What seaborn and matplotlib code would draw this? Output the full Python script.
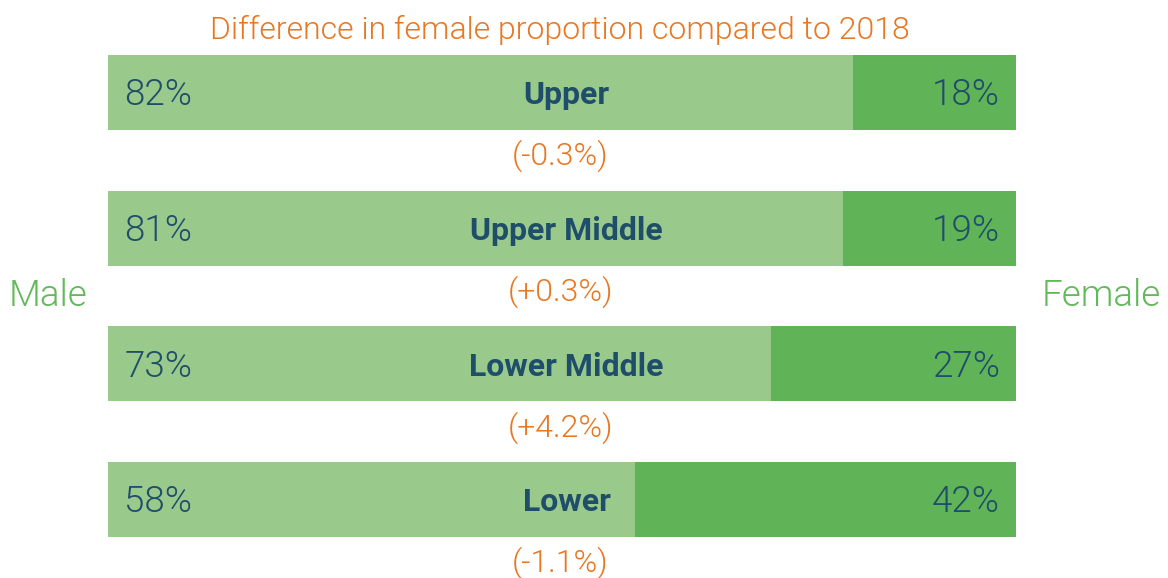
import pandas as pd
import matplotlib.pyplot as plt
import seaborn as sns

# --- data ---
groups = ["Upper", "Upper Middle", "Lower Middle", "Lower"]
male_pct = [82, 81, 73, 58]
female_pct = [18, 19, 27, 42]
diff_labels = ["(-0.3%)", "(+0.3%)", "(+4.2%)", "(-1.1%)"]

LIGHT = "#9ac98c"
DARK = "#60b457"
NAVY = "#1f4e6b"
ORANGE = "#e87722"
LABEL_GREEN = "#62b85a"
THIN = 300

df = pd.DataFrame({"group": groups, "male": male_pct, "female": female_pct})
df["total"] = df["male"] + df["female"]

sns.set_theme(style="white")
plt.rcParams["font.family"] = ["Roboto", "DejaVu Sans"]

fig = plt.figure(figsize=(11.68, 5.78), dpi=100)
ax = fig.add_axes([108 / 1168, 0, 908 / 1168, 1])

# female share is the dark bar behind, male share drawn over it from the left
sns.barplot(data=df, y="group", x="total", color=DARK, width=0.553,
            saturation=1, orient="h", linewidth=0, ax=ax)
sns.barplot(data=df, y="group", x="male", color=LIGHT, width=0.553,
            saturation=1, orient="h", linewidth=0, ax=ax)

ax.set_xlim(0, 100)
ax.set_ylim(3.579, -0.682)
ax.axis("off")

nudge = 0.022  # text sits a little below the bar centre
for i, row in df.iterrows():
    ax.text(1.8, i + nudge, f"{row['male']}%", ha="left", va="center",
            fontsize=26.5, fontweight=THIN, color=NAVY)
    ax.text(98.2, i + nudge, f"{row['female']}%", ha="right", va="center",
            fontsize=26.5, fontweight=THIN, color=NAVY)
    ax.text(50.5, i + nudge, row["group"], ha="center", va="center",
            fontsize=23, fontweight="bold", color=NAVY)
    ax.text(49.8, i + 0.468, diff_labels[i], ha="center", va="center",
            fontsize=23, fontweight=THIN, color=ORANGE, clip_on=False)

ax.text(49.8, -0.462, "Difference in female proportion compared to 2018",
        ha="center", va="center", fontsize=23, fontweight=THIN,
        color=ORANGE, clip_on=False)
ax.text(-6.6, 1.5, "Male", ha="center", va="center", fontsize=26.5,
        fontweight=THIN, color=LABEL_GREEN, clip_on=False)
ax.text(109.4, 1.5, "Female", ha="center", va="center", fontsize=26.5,
        fontweight=THIN, color=LABEL_GREEN, clip_on=False)

fig.savefig("out.png", dpi=100)
